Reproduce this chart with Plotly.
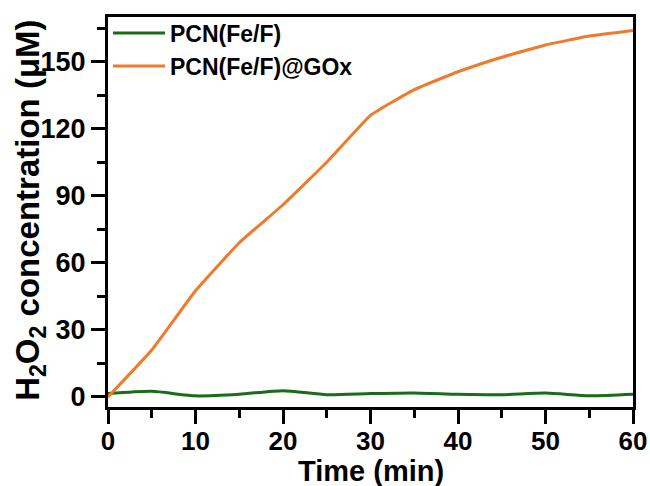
import plotly.graph_objects as go

time_min = [0, 5, 10, 15, 20, 25, 30, 35, 40, 45, 50, 55, 60]
pcn = [1.5, 2.5, 0.5, 1.2, 2.8, 1.0, 1.5, 1.8, 1.2, 1.0, 1.8, 0.5, 1.2]
pcn_gox = [0, 21, 47.5, 69, 86, 105, 126, 137.5, 145.5, 152, 157.5, 161.5, 164]

FONT = "Liberation Sans"
x_ticks = [0, 10, 20, 30, 40, 50, 60]
y_ticks = [0, 30, 60, 90, 120, 150]

fig = go.Figure()
fig.add_trace(go.Scatter(x=time_min, y=pcn, mode="lines", name="<b>PCN(Fe/F)</b>",
                         line=dict(color="#1a6b1a", width=3, shape="spline", smoothing=0.6)))
fig.add_trace(go.Scatter(x=time_min, y=pcn_gox, mode="lines", name="<b>PCN(Fe/F)@GOx</b>",
                         line=dict(color="#f07a2a", width=3, shape="spline", smoothing=0.3)))

fig.update_layout(
    width=650, height=486,
    margin=dict(l=108, r=17, t=15, b=79),
    plot_bgcolor="white", paper_bgcolor="white",
    font=dict(family=FONT, color="black"),
    showlegend=True,
    legend=dict(x=0.0, y=1.014, xanchor="left", yanchor="top",
                font=dict(family=FONT, size=23, color="black"),
                bgcolor="rgba(0,0,0,0)", tracegroupgap=0, itemwidth=52),
    annotations=[
        dict(text="<b>H<sub>2</sub>O<sub>2</sub> concentration (μM)</b>",
             xref="paper", yref="paper", x=-0.149, y=0.505,
             xanchor="center", yanchor="middle", textangle=-90, showarrow=False,
             font=dict(family=FONT, size=33, color="black")),
        dict(text="<b>Time (min)</b>",
             xref="paper", yref="paper", x=0.5, y=-0.163,
             xanchor="center", yanchor="middle", showarrow=False,
             font=dict(family=FONT, size=29, color="black")),
    ],
)
fig.update_xaxes(
    range=[0, 60], tickvals=x_ticks,
    ticktext=["<b>%d</b>" % v for v in x_ticks],
    showline=True, linewidth=3, linecolor="black", mirror=True,
    ticks="outside", ticklen=14, tickwidth=3, tickcolor="black",
    minor=dict(dtick=5, tick0=0, ticks="outside", ticklen=8, tickwidth=3, tickcolor="black"),
    showgrid=False, zeroline=False, automargin=False,
    ticklabelstandoff=-5,
    tickfont=dict(family=FONT, size=26, color="black"),
)
fig.update_yaxes(
    range=[-4.5, 170], tickvals=y_ticks,
    ticktext=["<b>%d</b>" % v for v in y_ticks],
    showline=True, linewidth=3, linecolor="black", mirror=True,
    ticks="outside", ticklen=14, tickwidth=3, tickcolor="black",
    minor=dict(dtick=15, tick0=0, ticks="outside", ticklen=8, tickwidth=3, tickcolor="black"),
    showgrid=False, zeroline=False, automargin=False,
    tickfont=dict(family=FONT, size=27, color="black"),
)

fig.write_html("out.html")
